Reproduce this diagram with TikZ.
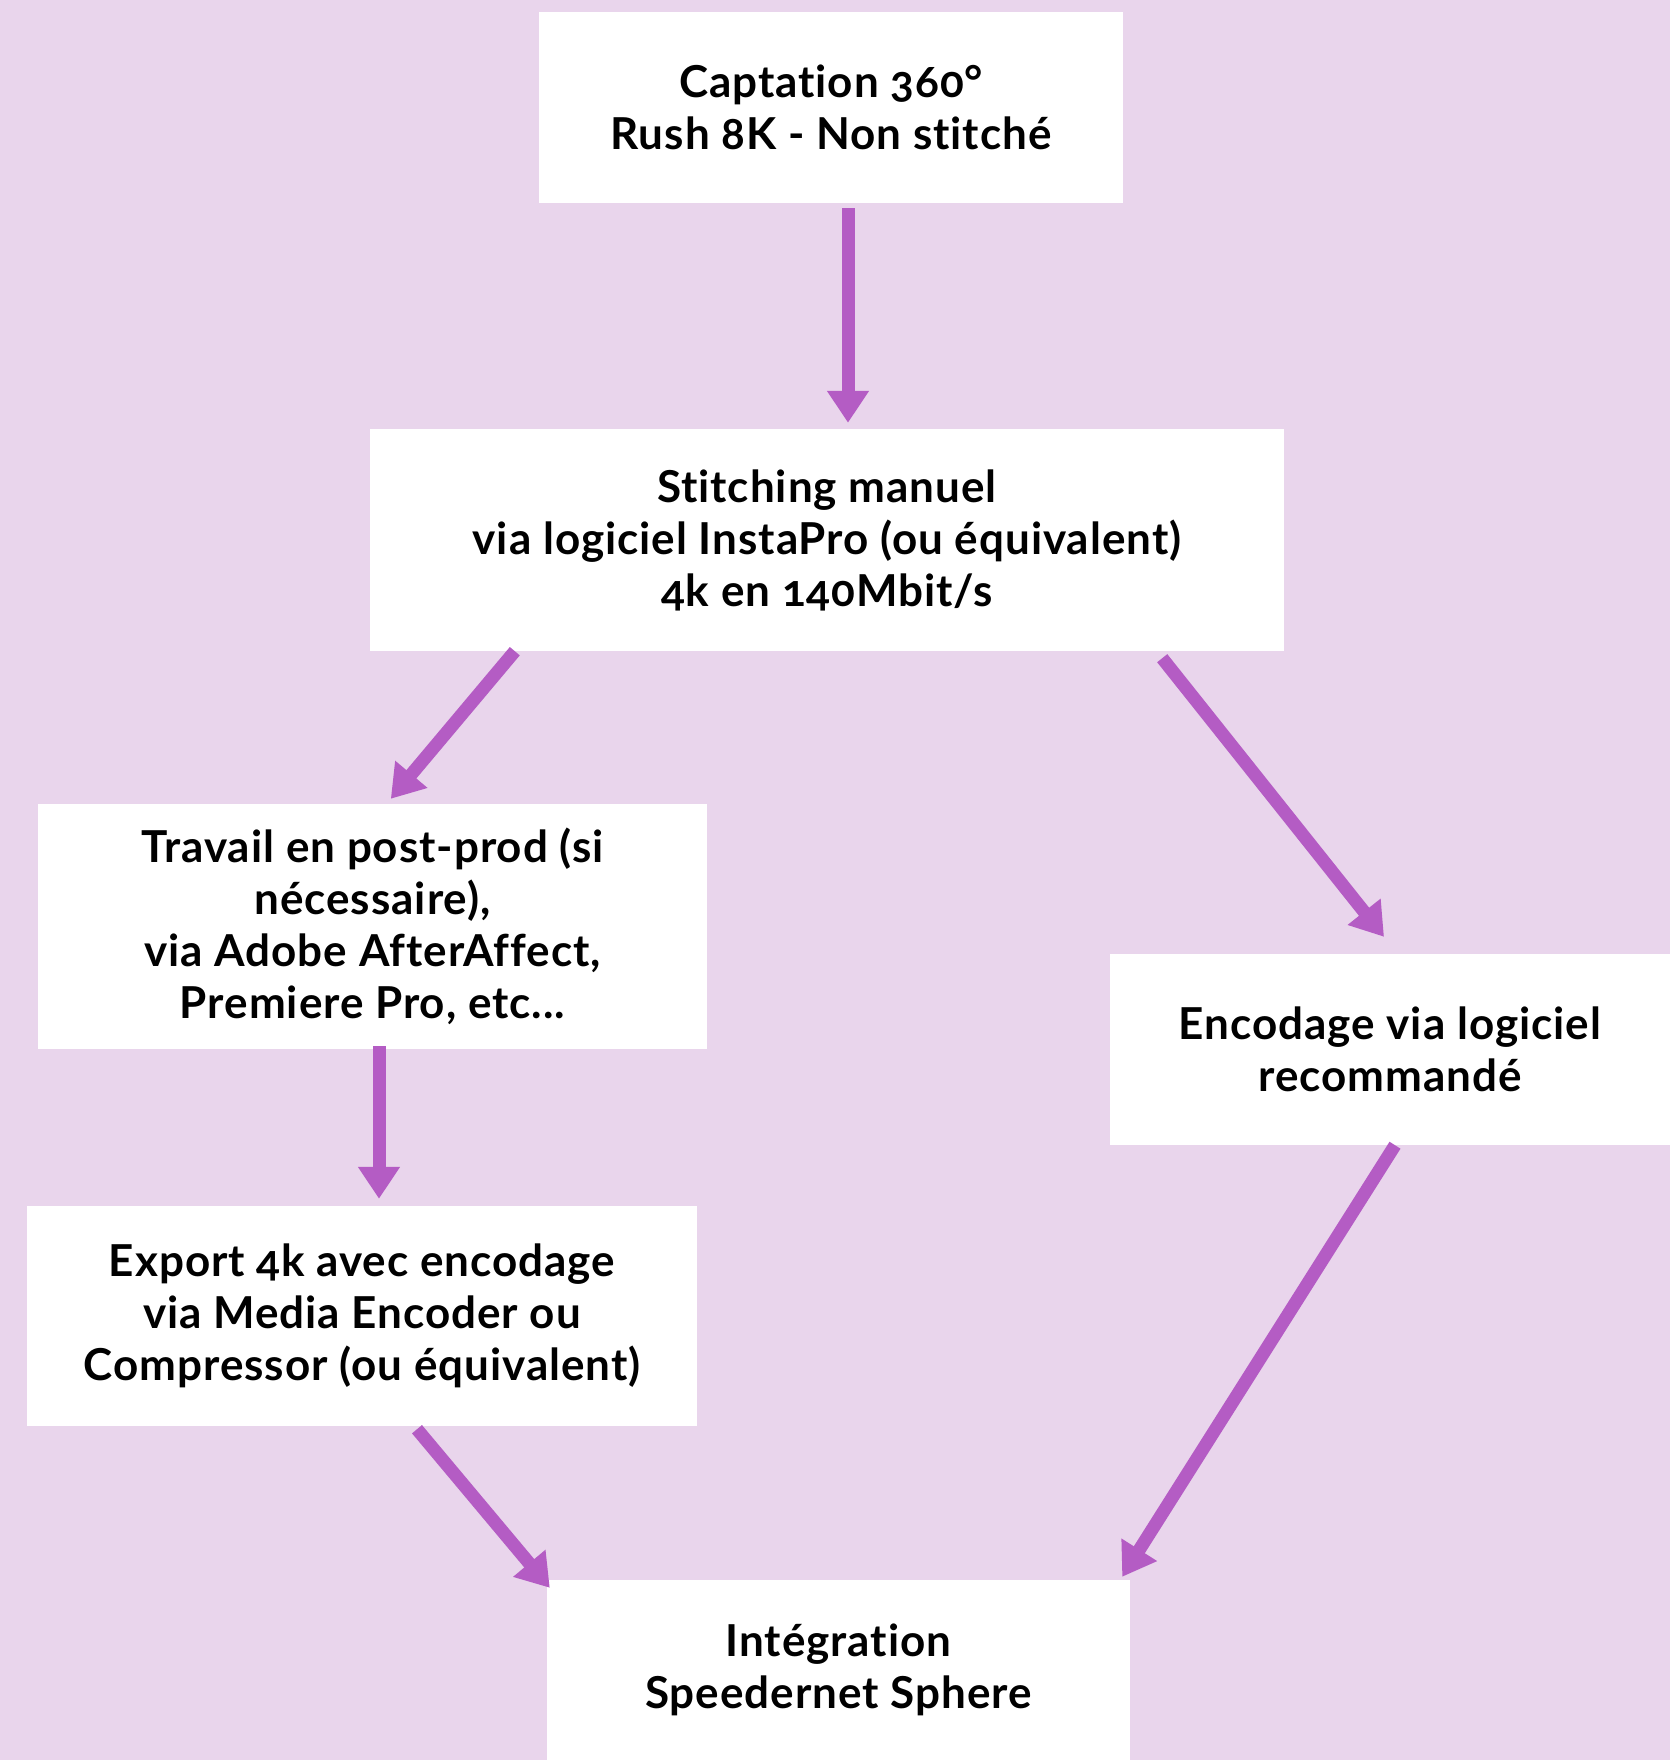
\documentclass[tikz,border=0pt]{standalone}
\usepackage{fontspec}
\setmainfont{Lato}[Numbers=OldStyle,LetterSpace=2.2,Ligatures=NoCommon]
\usepackage{tikz}
\usetikzlibrary{arrows.meta,positioning}

\definecolor{lavbg}{RGB}{233,213,236}
\definecolor{flowpurple}{RGB}{180,92,196}

\begin{document}
\begin{tikzpicture}[x=1pt,y=-1pt,
  stepbox/.style={rectangle,fill=white,draw=none,align=center,inner sep=0pt,
    font=\fontsize{44}{52}\selectfont\bfseries},
  flow/.style={draw=flowpurple,line width=13pt,
    -{Triangle[width=40pt,length=32pt]}}]

  % Background
  \fill[lavbg] (0,0) rectangle (1670,1760);
  \useasboundingbox (0,0) rectangle (1670,1760);

  % Steps
  \node[stepbox,minimum width=584pt,minimum height=191pt] (capt) at (831,107.5)
    {Captation 360°\\Rush 8K - Non stitché};
  \node[stepbox,minimum width=914pt,minimum height=222pt] (stitch) at (827,540)
    {Stitching manuel\\via logiciel InstaPro (ou équivalent)\\4k en 140Mbit/s};
  \node[stepbox,minimum width=669pt,minimum height=245pt] (post) at (372.5,926.5)
    {Travail en post-prod (si\\nécessaire),\\via Adobe AfterAffect,\\Premiere Pro, etc...};
  \node[stepbox,minimum width=560pt,minimum height=191pt] (enc) at (1390,1049.5)
    {Encodage via logiciel\\recommandé};
  \node[stepbox,minimum width=670pt,minimum height=220pt] (export) at (362,1316)
    {Export 4k avec encodage\\via Media Encoder ou\\Compressor (ou équivalent)};
  \node[stepbox,minimum width=583pt,minimum height=180pt] (integ) at (838.5,1670)
    {Intégration\\Speedernet Sphere};

  % Arrows
  \draw[flow] ([xshift=17pt,yshift=-5pt]capt.south) -- ([xshift=21pt,yshift=6pt]stitch.north);
  \draw[flow] ([xshift=145pt]stitch.south west) -- ([xshift=353pt,yshift=5pt]post.north west);
  \draw[flow] ([xshift=-122pt,yshift=-7pt]stitch.south east) -- ([xshift=-6pt,yshift=17pt]enc.north);
  \draw[flow] ([xshift=6.5pt,yshift=3pt]post.south) -- ([xshift=17pt,yshift=7pt]export.north);
  \draw[flow] ([xshift=55pt,yshift=-3pt]export.south) -- ([xshift=3pt,yshift=-8pt]integ.north west);
  \draw[flow] ([xshift=5pt]enc.south) -- ([xshift=-8pt,yshift=3pt]integ.north east);
\end{tikzpicture}
\end{document}
